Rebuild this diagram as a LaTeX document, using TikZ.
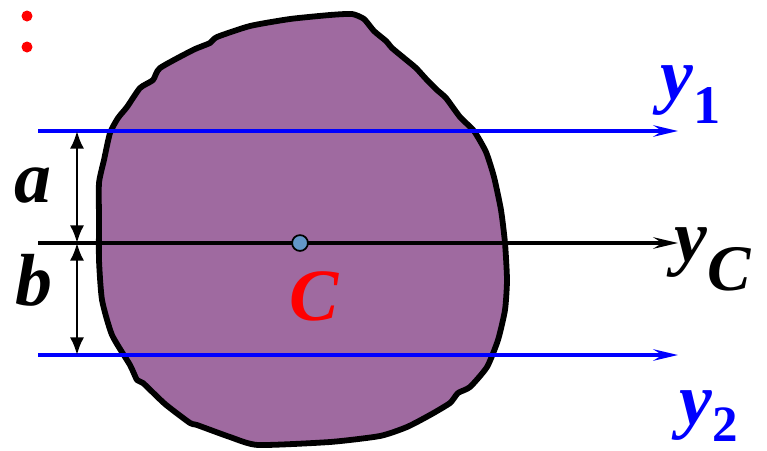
\documentclass[tikz,border=0pt]{standalone}
\usepackage{fontspec}
\setmainfont{Liberation Serif}
\usetikzlibrary{arrows.meta}
\definecolor{blobpurple}{RGB}{159,106,160}
\definecolor{pointblue}{RGB}{98,150,200}
\newcommand{\ylab}[3]{{\bfseries\itshape y}\raisebox{#2}{\fontsize{#3}{#3}\selectfont\bfseries\upshape #1}}

\begin{document}
\begin{tikzpicture}[x=0.02cm, y=-0.02cm,
    axis/.style={line width=2pt, -{Stealth[length=14pt,width=6.5pt,inset=5pt]}},
    dim/.style={line width=1.4pt, {Latex[length=10pt,width=8pt]}-{Latex[length=10pt,width=8pt]}},
    lab/.style={font=\fontsize{42}{42}\selectfont\bfseries\itshape, inner sep=0pt, anchor=base}
]
\useasboundingbox (0,0) rectangle (767,450);

% cross section
\draw[line width=3.3pt, fill=blobpurple, line join=round]
  plot[smooth cycle, tension=0.35] coordinates {
    (352,14) (364,19) (374,31) (386,41) (392,48) (404,58) (416,68) (427,80)
    (437,90) (446,98) (460,117) (474,131) (486,152) (494,177) (501,210)
    (505,243) (507,280) (505,310) (498,340) (487,367) (470,387) (458,393)
    (450,403) (430,415) (407,427) (380,436) (330,442) (258,445) (230,437)
    (197,425) (190,423) (165,404) (143,383) (137,380) (130,365) (112,335)
    (102,300) (99,260) (99,220) (99,183) (104,160) (110,133) (118,118)
    (127,107) (140,88) (153,80) (160,68) (193,50) (210,43) (217,37)
    (250,26) (290,19) (330,15)};

\fill[red] (27,16) circle (5.5) (27,47) circle (5.5);

\coordinate (y1s) at (38,131);  \coordinate (y1e) at (678,131);
\coordinate (ycs) at (38,243);  \coordinate (yce) at (678,243);
\coordinate (y2s) at (38,355);  \coordinate (y2e) at (678,355);
\coordinate (da) at (77,131);   \coordinate (dc) at (77,243);
\coordinate (db) at (77,355);

\draw[axis, blue] (y1s) -- (y1e);
\draw[axis, black] (ycs) -- (yce);
\draw[axis, blue] (y2s) -- (y2e);
\draw[dim] (da) -- (dc);
\draw[dim] (dc) -- (db);

\node[circle, draw, line width=1pt, fill=pointblue, minimum size=9pt, inner sep=0pt] (C) at (300,243) {};

\node[lab] (la) at (33,202) {a};
\node[lab] (lb) at (34,305) {b};
\node[lab, red] (lC) at (314,320) {C};
\node[lab, blue, anchor=base west] (ly1) at (660,99) {\ylab{1}{-14pt}{31}};
\node[lab, black, anchor=base west] (lyc) at (674,261) {\ylab{\itshape C}{-17pt}{37}};
\node[lab, blue, anchor=base west] (ly2) at (679,424) {\ylab{2}{-10pt}{29}};
\end{tikzpicture}
\end{document}
